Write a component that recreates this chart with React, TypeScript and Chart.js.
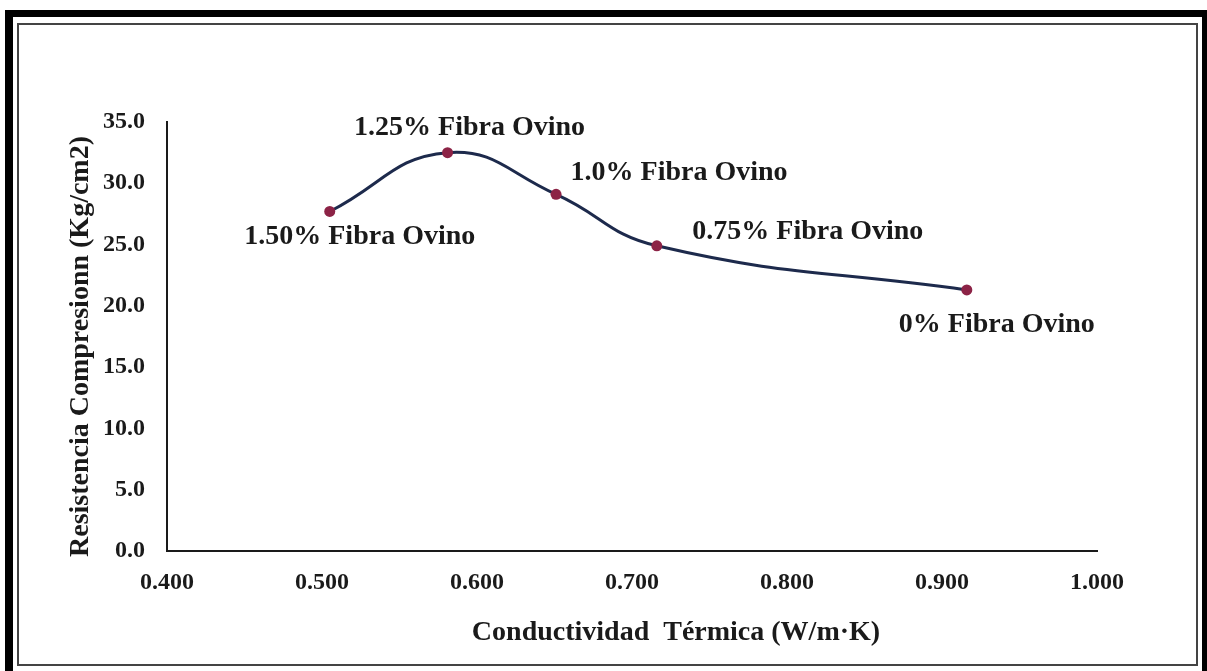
import React, { useEffect, useRef } from "react";
import { Chart, registerables } from "chart.js";

Chart.register(...registerables);

// ---- data ----
const conductividad = [0.505, 0.581, 0.651, 0.716, 0.916];
const resistencia = [27.7, 32.5, 29.1, 24.9, 21.3];
const etiquetas = [
  "1.50% Fibra Ovino",
  "1.25% Fibra Ovino",
  "1.0% Fibra Ovino",
  "0.75% Fibra Ovino",
  "0% Fibra Ovino",
];
const xTitle = "Conductividad  Térmica (W/m·K)";
const yTitle = "Resistencia Compresionn (Kg/cm2)";
const xRange = [0.4, 1.0];
const yRange = [0, 35];

// label offsets relative to each point (layout only)
const labelOffsets: [number, number][] = [
  [30, 25],
  [22, -25],
  [123, -22],
  [151, -14],
  [30, 35],
];

const FONT = "'Liberation Serif', 'Times New Roman', serif";
const TEXT = "#1a1a1a";

const labelsPlugin = {
  id: "pointLabels",
  afterDatasetsDraw(chart: any) {
    const ctx = chart.ctx;
    const meta = chart.getDatasetMeta(0);
    ctx.save();
    ctx.font = `bold 28px ${FONT}`;
    ctx.fillStyle = TEXT;
    ctx.textAlign = "center";
    ctx.textBaseline = "middle";
    meta.data.forEach((pt: any, i: number) => {
      const [dx, dy] = labelOffsets[i];
      ctx.fillText(etiquetas[i], pt.x + dx, pt.y + dy);
    });
    // axis titles
    const ca = chart.chartArea;
    ctx.fillText(xTitle, (ca.left + ca.right) / 2 + 44, 633);
    ctx.translate(81, (ca.top + ca.bottom) / 2 + 10);
    ctx.rotate(-Math.PI / 2);
    ctx.fillText(yTitle, 0, 0);
    ctx.restore();
  },
};

export default function App() {
  const ref = useRef<HTMLCanvasElement>(null);
  useEffect(() => {
    if (!ref.current) return;
    const chart = new Chart(ref.current, {
      type: "line",
      data: {
        datasets: [
          {
            data: conductividad.map((x, i) => ({ x, y: resistencia[i] })),
            borderColor: "#1d2a4c",
            borderWidth: 3,
            tension: 0.45,
            pointRadius: 5.5,
            pointBackgroundColor: "#8c2346",
            pointBorderColor: "#8c2346",
            pointBorderWidth: 0,
            fill: false,
          },
        ],
      },
      options: {
        animation: false,
        responsive: false,
        devicePixelRatio: 1,
        layout: { padding: { top: 122, right: 110, bottom: 0, left: 0 } },
        plugins: {
          legend: { display: false },
          tooltip: { enabled: false },
        },
        scales: {
          x: {
            type: "linear",
            min: xRange[0],
            max: xRange[1],
            grid: { display: false, drawTicks: false },
            border: { display: true, color: "#1a1a1a", width: 2 },
            ticks: {
              stepSize: 0.1,
              padding: 17,
              color: TEXT,
              font: { family: FONT, size: 24, weight: "bold" },
              callback: (v: any) => Number(v).toFixed(3),
              maxRotation: 0,
            },
            afterFit: (s: any) => {
              s.height = 120;
              s.paddingLeft = 0;
              s.paddingRight = 0;
            },
          },
          y: {
            type: "linear",
            min: yRange[0],
            max: yRange[1],
            grid: { display: false, drawTicks: false },
            border: { display: true, color: "#1a1a1a", width: 2 },
            ticks: {
              stepSize: 5,
              padding: 22,
              color: TEXT,
              font: { family: FONT, size: 24, weight: "bold" },
              callback: (v: any) => Number(v).toFixed(1),
            },
            afterFit: (s: any) => {
              s.width = 167;
              s.paddingTop = 0;
              s.paddingBottom = 0;
            },
          },
        },
      },
      plugins: [labelsPlugin],
    });
    return () => chart.destroy();
  }, []);

  return (
    <div
      style={{
        position: "fixed",
        left: 0,
        top: 0,
        width: 1207,
        height: 671,
        background: "#fff",
        overflow: "hidden",
      }}
    >
      <div
        style={{
          position: "absolute",
          left: 5,
          top: 10,
          width: 1202,
          height: 665,
          boxSizing: "border-box",
          borderStyle: "solid",
          borderColor: "#000",
          borderWidth: "7px 5px 4px 8px",
        }}
      />
      <div
        style={{
          position: "absolute",
          left: 17,
          top: 23,
          width: 1181,
          height: 643,
          boxSizing: "border-box",
          border: "2px solid #444",
        }}
      />
      <canvas
        ref={ref}
        width={1207}
        height={671}
        style={{ position: "absolute", left: 0, top: 0, width: 1207, height: 671 }}
      />
    </div>
  );
}
